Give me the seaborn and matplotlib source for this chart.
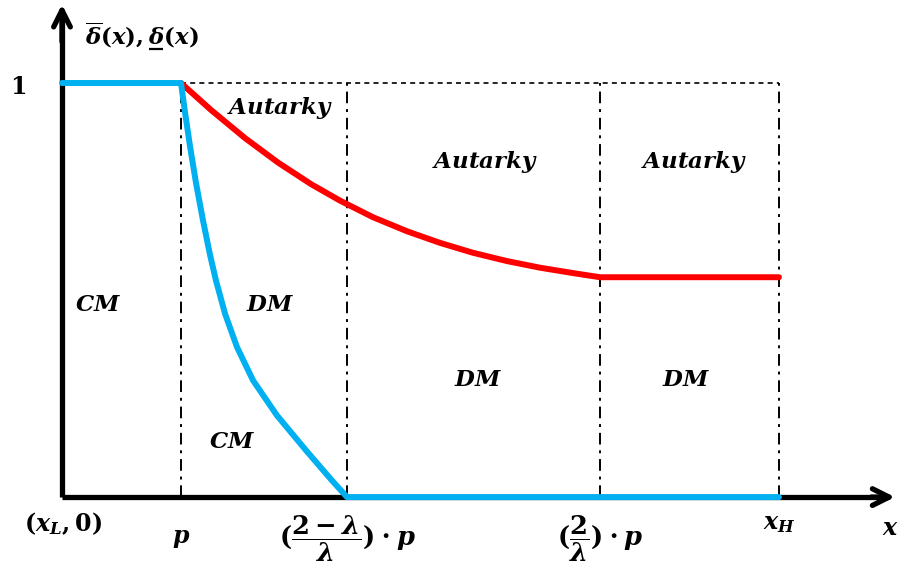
import matplotlib
matplotlib.use("Agg")
import matplotlib.pyplot as plt
import seaborn as sns
import numpy as np
import pandas as pd

# ---- data (x in units of p, y = delta value) ----
x_L = 0.0
p = 1.0
b1 = 2.395     # ((2-lambda)/lambda) * p
b2 = 4.521     # (2/lambda) * p
x_H = 6.025

blue_x = [0.0, 1.0, 1.034, 1.076, 1.126, 1.185, 1.244, 1.294, 1.370, 1.471, 1.605,
          1.807, 2.059, 2.269, 2.395, 6.025]
blue_y = [1.0, 1.0, 0.929, 0.847, 0.759, 0.668, 0.585, 0.523, 0.443, 0.362, 0.282,
          0.197, 0.110, 0.040, 0.0, 0.0]

red_x = [1.0, 1.252, 1.538, 1.815, 2.092, 2.336, 2.613, 2.899, 3.176, 3.454, 3.739,
         4.017, 4.294, 4.521, 6.025]
red_y = [1.0, 0.935, 0.867, 0.808, 0.756, 0.716, 0.676, 0.642, 0.614, 0.590, 0.570,
         0.554, 0.541, 0.531, 0.531]

boundaries = [p, b1, b2, x_H]

sns.set_theme(style="white")
plt.rcParams['mathtext.fontset'] = 'custom'
plt.rcParams['mathtext.rm'] = 'DejaVu Serif:bold'
plt.rcParams['mathtext.it'] = 'DejaVu Serif:italic:bold'
plt.rcParams['mathtext.bf'] = 'DejaVu Serif:bold'
plt.rcParams['font.family'] = ['DejaVu Serif']
plt.rcParams['text.color'] = 'black'

fig = plt.figure(figsize=(8.99, 5.77), dpi=100)
ax = fig.add_axes([0, 0, 1, 1])

# guide lines
for b in boundaries:
    ax.plot([b, b], [0, 1], color='black', lw=1.4, ls=(0, (6, 3, 1.5, 3)), zorder=1)
ax.plot([p, x_H], [1, 1], color='black', lw=1.2, ls=(0, (3, 2.5)), zorder=1)

# axes with arrows
ax.plot([0, 6.95], [0, 0], color='black', lw=3.8, solid_capstyle='butt', zorder=2)
ax.plot([0, 0], [0, 1.17], color='black', lw=3.8, solid_capstyle='butt', zorder=2)
ax.annotate('', xy=(7.0, 0), xytext=(6.8, 0),
            arrowprops=dict(arrowstyle='->', lw=3.8, color='black', mutation_scale=30,
                            shrinkA=0, shrinkB=0), zorder=2)
ax.annotate('', xy=(0, 1.19), xytext=(0, 1.1),
            arrowprops=dict(arrowstyle='->', lw=3.8, color='black', mutation_scale=30,
                            shrinkA=0, shrinkB=0), zorder=2)

blue_df = pd.DataFrame({'x': blue_x, 'y': blue_y})
red_df = pd.DataFrame({'x': red_x, 'y': red_y})
sns.lineplot(data=red_df, x='x', y='y', ax=ax, sort=False, estimator=None,
             color='#FF0000', lw=4.3, zorder=3)
sns.lineplot(data=blue_df, x='x', y='y', ax=ax, sort=False, estimator=None,
             color='#00B0F0', lw=4.3, zorder=4)
for ln in ax.get_lines():
    ln.set_solid_joinstyle('round')
ax.set_xlim(-0.521, 7.034)
ax.set_ylim(-0.193, 1.2005)
ax.axis('off')

fs = 16.5
def t(x, y, s, size=fs, **kw):
    ax.text(x, y, s, fontsize=size, ha='center', va='center', color='black', **kw)

t(0.672, 1.116, r'$\overline{\delta}(x), \delta(x)$', size=16.5)
# underline of the lower bound symbol
ax.plot([0.735, 0.845], [1.083, 1.083], color='black', lw=1.6, solid_capstyle='butt')
t(-0.37, 0.99, r'$\mathbf{1}$', size=17)
t(1.832, 0.940, r'$Autarky$')
t(3.555, 0.809, r'$Autarky$')
t(5.311, 0.809, r'$Autarky$')
t(0.303, 0.464, r'$CM$')
t(1.748, 0.464, r'$DM$')
t(1.429, 0.133, r'$CM$')
t(3.496, 0.283, r'$DM$')
t(5.244, 0.283, r'$DM$')
t(0.008, -0.063, r'$(x_L, \mathbf{0})$', size=17)
t(1.0, -0.099, r'$p$', size=17)
t(2.40, -0.100, r'$(\dfrac{2-\lambda}{\lambda})\cdot p$', size=18.5)
t(4.521, -0.100, r'$(\dfrac{2}{\lambda})\cdot p$', size=18.5)
t(6.025, -0.063, r'$x_H$', size=17)
t(6.958, -0.075, r'$x$', size=17)

fig.savefig('out.png', dpi=100)
